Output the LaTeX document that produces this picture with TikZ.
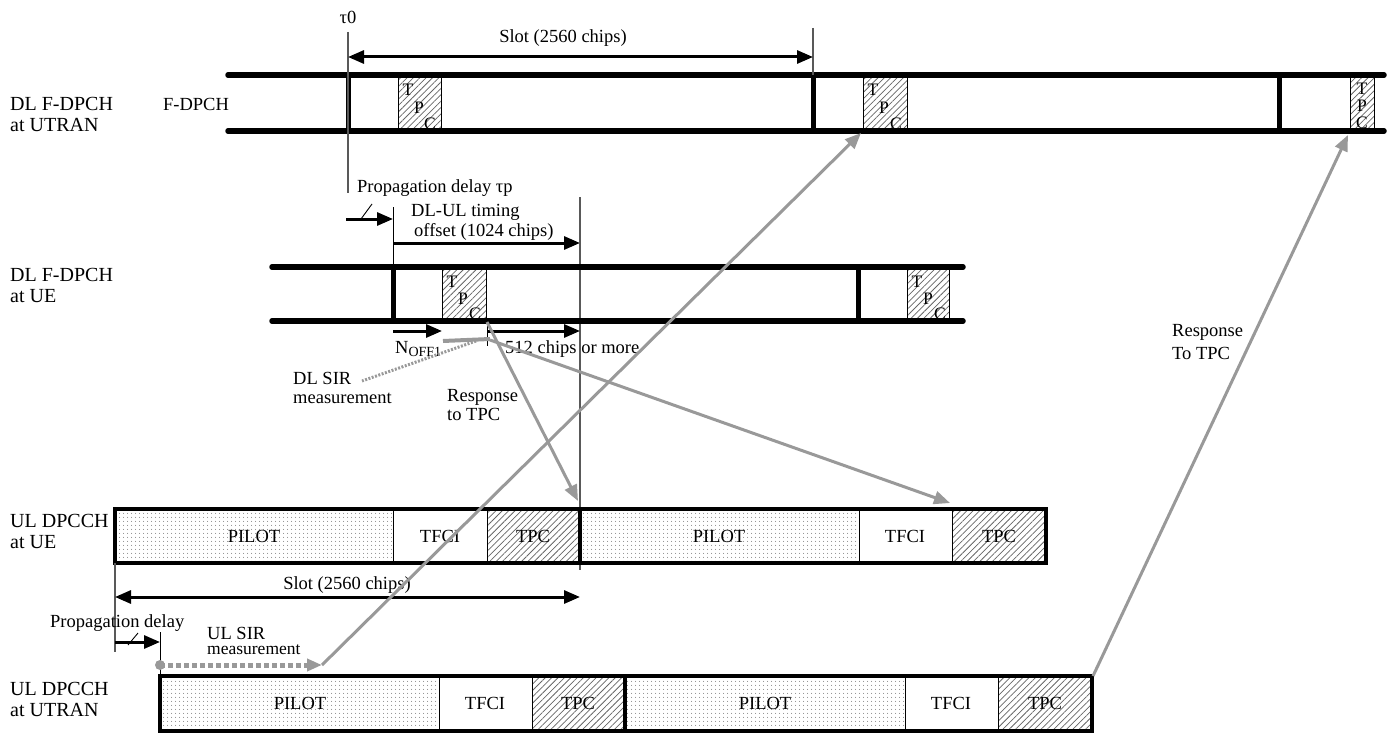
\documentclass[tikz,border=0pt]{standalone}
\usepackage{fontspec}
\setmainfont{Liberation Serif}
\usetikzlibrary{arrows.meta,patterns.meta}
\begin{document}
\begin{tikzpicture}[x=1pt,y=-1pt,
  chlabel/.style={font=\fontsize{20}{21}\selectfont, inner sep=0pt, anchor=west},
  txt/.style={font=\fontsize{18.5}{20}\selectfont, inner sep=0pt},
  small/.style={font=\fontsize{17.5}{18}\selectfont, inner sep=0pt},
  chanline/.style={line width=5.5pt, line cap=round},
  ulframe/.style={line width=4pt},
  guideline/.style={line width=1.3pt, draw=black!65},
  blkarrow/.style={line width=3pt, -{Triangle[length=16pt,width=13pt]}},
  gryarrow/.style={line width=3pt, draw=black!40, -{Triangle[length=16pt,width=13pt]}},
  tpcfill/.style={draw=black, line width=0.8pt, pattern={Lines[angle=45,distance=4.5pt,line width=0.75pt]}, pattern color=black!60},
  pilotfill/.style={draw=black, line width=0.8pt, pattern={Dots[distance=4pt,radius=0.6pt]}, pattern color=black!50},
  tfcibox/.style={draw=black, line width=0.8pt, fill=white}
]
\useasboundingbox (0,0) rectangle (1392,733);

% ---------- DL F-DPCH at UTRAN ----------
\node[chlabel] (lblA1) at (10,104) {DL F-DPCH};
\node[chlabel] (lblA2) at (10,125) {at UTRAN};
\node[txt] (fdpch) at (196,104) {F-DPCH};

\draw[tpcfill] (398,75) rectangle (441,131);
\draw[tpcfill] (863,75) rectangle (907,131);
\draw[tpcfill] (1350,75) rectangle (1374,131);
\node[small] (t1T) at (408,90) {T};
\node[small] (t1P) at (419,108) {P};
\node[small] (t1C) at (430,124) {C};
\node[small] (t2T) at (873,90) {T};
\node[small] (t2P) at (884,108) {P};
\node[small] (t2C) at (896,124) {C};
\node[small] (t3T) at (1362,89) {T};
\node[small] (t3P) at (1362,106) {P};
\node[small] (t3C) at (1362,123) {C};

\draw[chanline] (228,75) -- (1384,75);
\draw[chanline] (228,131) -- (1384,131);
\draw[line width=5pt] (348,75) -- (348,131);
\draw[line width=5pt] (813,75) -- (813,131);
\draw[line width=5pt] (1279,75) -- (1279,131);

\node[txt] (tau0) at (348,17) {τ0};
\coordinate (g0top) at (348,32);
\coordinate (g0bot) at (348,193);
\draw[guideline] (g0top) -- (g0bot);
\coordinate (g1top) at (813,28);
\coordinate (g1bot) at (813,75);
\draw[guideline] (g1top) -- (g1bot);
\coordinate (slotL) at (348,57);
\coordinate (slotR) at (813,57);
\draw[line width=3pt, {Triangle[length=16pt,width=13pt]}-{Triangle[length=16pt,width=13pt]}] (slotL) -- (slotR);
\node[txt] (slottop) at (563,38) {Slot (2560 chips)};

% ---------- propagation / timing offset ----------
\node[txt, anchor=west] (propd) at (357,188) {Propagation delay τp};
\coordinate (pdA) at (346,219);
\coordinate (pdB) at (393,219);
\draw[blkarrow] (pdA) -- (pdB);
\draw[line width=0.9pt] (361,219) -- (372,204);
\coordinate (g2top) at (393,207);
\coordinate (g2bot) at (393,267);
\draw[line width=1pt] (g2top) -- (g2bot);
\node[txt, anchor=west] (dlul1) at (411,212) {DL-UL timing};
\node[txt, anchor=west] (dlul2) at (414,232) {offset (1024 chips)};
\coordinate (offA) at (393,243);
\coordinate (offB) at (580,243);
\draw[blkarrow] (offA) -- (offB);
\coordinate (g3top) at (580,197);
\coordinate (g3bot) at (580,570);
\draw[guideline] (g3top) -- (g3bot);

% ---------- DL F-DPCH at UE ----------
\node[chlabel] (lblB1) at (10,275) {DL F-DPCH};
\node[chlabel] (lblB2) at (10,296) {at UE};
\draw[tpcfill] (442,267) rectangle (486,321);
\draw[tpcfill] (907,267) rectangle (949,321);
\node[small] (u1T) at (452,282) {T};
\node[small] (u1P) at (463,299) {P};
\node[small] (u1C) at (475,314) {C};
\node[small] (u2T) at (917,282) {T};
\node[small] (u2P) at (928,299) {P};
\node[small] (u2C) at (940,314) {C};
\draw[chanline] (272,267) -- (963,267);
\draw[chanline] (272,321) -- (963,321);
\draw[line width=5pt] (393,267) -- (393,321);
\draw[line width=5pt] (858,267) -- (858,321);

\coordinate (noA) at (393,331);
\coordinate (noB) at (442,331);
\draw[blkarrow] (noA) -- (noB);
\node[txt, anchor=west] (noff) at (395,349) {N\raisebox{-3pt}{\fontsize{14}{14}\selectfont OFF1}};
\coordinate (m5A) at (487,331);
\coordinate (m5B) at (580,331);
\draw[blkarrow] (m5A) -- (m5B);
\draw[line width=0.9pt] (487,322) -- (487,346);
\node[txt, anchor=west] (m512) at (505,349) {512 chips or more};

% DL SIR measurement
\coordinate (sirA) at (443,341);
\coordinate (sirB) at (490,339);
\draw[line width=4pt, draw=black!40] (sirA) -- (sirB);
\node[txt, anchor=west] (dlsir1) at (293,378) {DL SIR};
\node[txt, anchor=west] (dlsir2) at (293,398) {measurement};
\coordinate (sirC) at (476,341);
\coordinate (sirD) at (362,381);
\draw[line width=3pt, draw=black!40, dash pattern=on 2pt off 1.5pt] (sirC) -- (sirD);

\node[txt, anchor=west] (resp1a) at (447,397) {Response};
\node[txt, anchor=west] (resp1b) at (447,414) {to TPC};
\node[txt, anchor=west] (resp2a) at (1172,332) {Response};
\node[txt, anchor=west] (resp2b) at (1172,353) {To TPC};

% ---------- UL DPCCH at UE ----------
\node[chlabel] (lblC1) at (10,521) {UL DPCCH};
\node[chlabel] (lblC2) at (10,542) {at UE};
\draw[pilotfill] (115,509) rectangle (393,563);
\draw[tfcibox] (393,509) rectangle (487,563);
\draw[tpcfill] (487,509) rectangle (580,563);
\draw[pilotfill] (580,509) rectangle (859,563);
\draw[tfcibox] (859,509) rectangle (952,563);
\draw[tpcfill] (952,509) rectangle (1046,563);
\draw[ulframe] (115,509) rectangle (1046,563);
\draw[line width=4pt] (580,509) -- (580,563);
\node[txt] (ueP1) at (254,536) {PILOT};
\node[txt] (ueF1) at (440,536) {TFCI};
\node[txt] (ueT1) at (533,536) {TPC};
\node[txt] (ueP2) at (719,536) {PILOT};
\node[txt] (ueF2) at (905,536) {TFCI};
\node[txt] (ueT2) at (999,536) {TPC};

\coordinate (g4top) at (115,563);
\coordinate (g4bot) at (115,652);
\draw[guideline] (g4top) -- (g4bot);
\coordinate (slot2L) at (115,597);
\coordinate (slot2R) at (580,597);
\draw[line width=3pt, {Triangle[length=16pt,width=13pt]}-{Triangle[length=16pt,width=13pt]}] (slot2L) -- (slot2R);
\node[txt] (slotbot) at (347,585) {Slot (2560 chips)};

\node[txt, anchor=west] (propd2) at (50,623) {Propagation delay};
\coordinate (pd2A) at (115,642);
\coordinate (pd2B) at (160,642);
\draw[blkarrow] (pd2A) -- (pd2B);
\draw[line width=0.9pt] (128,645) -- (138,633);
\coordinate (g5top) at (160,632);
\coordinate (g5bot) at (160,676);
\draw[line width=1pt] (g5top) -- (g5bot);

\node[txt, anchor=west] (ulsir1) at (207,633) {UL SIR};
\node[small, anchor=west] (ulsir2) at (207,650) {measurement};
\coordinate (ulsA) at (160,665);
\coordinate (ulsB) at (322,665);
\fill[black!40] (ulsA) circle (5pt);
\draw[line width=5pt, draw=black!40, dash pattern=on 5pt off 3pt, -{Triangle[length=15pt,width=12pt]}] (ulsA) -- (ulsB);

% ---------- UL DPCCH at UTRAN ----------
\node[chlabel] (lblD1) at (10,689) {UL DPCCH};
\node[chlabel] (lblD2) at (10,710) {at UTRAN};
\draw[pilotfill] (160,676) rectangle (439,731);
\draw[tfcibox] (439,676) rectangle (532,731);
\draw[tpcfill] (532,676) rectangle (625,731);
\draw[pilotfill] (625,676) rectangle (905,731);
\draw[tfcibox] (905,676) rectangle (998,731);
\draw[tpcfill] (998,676) rectangle (1092,731);
\draw[ulframe] (160,676) rectangle (1092,731);
\draw[line width=4pt] (625,676) -- (625,731);
\node[txt] (utP1) at (300,703) {PILOT};
\node[txt] (utF1) at (485,703) {TFCI};
\node[txt] (utT1) at (578,703) {TPC};
\node[txt] (utP2) at (765,703) {PILOT};
\node[txt] (utF2) at (951,703) {TFCI};
\node[txt] (utT2) at (1045,703) {TPC};

% ---------- gray response arrows ----------
\coordinate (aS) at (487,322);
\coordinate (aE) at (578,501);
\draw[gryarrow] (aS) -- (aE);
\coordinate (bS) at (490,340);
\coordinate (bE) at (950,503);
\draw[gryarrow] (bS) -- (bE);
\coordinate (cE) at (861,133);
\draw[gryarrow] (ulsB) -- (cE);
\coordinate (dS) at (1093,676);
\coordinate (dE) at (1348,135);
\draw[gryarrow] (dS) -- (dE);
\end{tikzpicture}
\end{document}
